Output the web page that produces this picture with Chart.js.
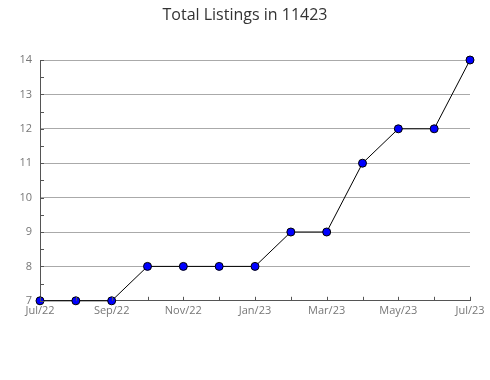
<!DOCTYPE html>
<html>
<head>
<meta charset="utf-8">
<script src="https://cdn.jsdelivr.net/npm/chart.js@4/dist/chart.umd.min.js"></script>
<style>
html,body{margin:0;padding:0;background:#fff;}
#wrap{width:490px;height:380px;position:relative;}
</style>
</head>
<body>
<div id="wrap"><canvas id="c" width="490" height="380"></canvas></div>
<script>
const chartTitle = "Total Listings in 11423";
const months = ["Jul/22","Aug/22","Sep/22","Oct/22","Nov/22","Dec/22","Jan/23","Feb/23","Mar/23","Apr/23","May/23","Jun/23","Jul/23"];
const listings = [7,7,7,8,8,8,8,9,9,11,12,12,14];
const yMin = 7;
const yMax = 14;

const innerTicks = {
  id: 'innerTicks',
  afterDraw(chart) {
    const ctx = chart.ctx;
    const x = chart.scales.x, y = chart.scales.y;
    const area = chart.chartArea;
    ctx.save();
    ctx.strokeStyle = '#555';
    ctx.lineWidth = 1;
    ctx.beginPath();
    for (let v = yMin; v <= yMax; v += 0.5) {
      const py = Math.round(y.getPixelForValue(v)) + 0.5;
      ctx.moveTo(area.left, py);
      ctx.lineTo(area.left + 4, py);
    }
    for (let i = 0; i < months.length; i++) {
      const px = Math.round(x.getPixelForValue(i)) + 0.5;
      ctx.moveTo(px, area.bottom);
      ctx.lineTo(px, area.bottom - 4);
    }
    ctx.stroke();
    ctx.fillStyle = '#333';
    ctx.font = '16px "Open Sans"';
    ctx.textAlign = 'center';
    ctx.textBaseline = 'middle';
    ctx.fillText(chartTitle, chart.width / 2, 15);
    ctx.restore();
  }
};

new Chart(document.getElementById('c'), {
  type: 'line',
  data: {
    labels: months,
    datasets: [{
      data: listings,
      borderColor: '#000',
      borderWidth: 1,
      backgroundColor: '#0000ff',
      pointBackgroundColor: '#0000ff',
      pointBorderColor: '#000',
      pointBorderWidth: 1,
      pointRadius: 4,
      tension: 0,
      clip: false
    }]
  },
  options: {
    responsive: false,
    animation: false,
    layout: { padding: { left: 0, right: 20, top: 60, bottom: 60 } },
    plugins: {
      legend: { display: false },
      tooltip: { enabled: false },
      title: { display: false }
    },
    scales: {
      x: {
        offset: false,
        grid: { display: false, drawTicks: false },
        border: { color: '#555', width: 1 },
        ticks: {
          autoSkip: false,
          maxRotation: 0,
          padding: 3,
          color: '#777',
          font: { family: 'Open Sans', size: 11 },
          callback: (v, i) => (i % 2 === 0 ? months[i] : '')
        }
      },
      y: {
        min: yMin,
        max: yMax,
        afterFit: (s) => { s.width = 40; },
        grid: {
          drawTicks: false,
          color: (c) => (c.tick && Number.isInteger(c.tick.value) && c.tick.value !== yMin ? '#aaa' : 'rgba(0,0,0,0)'),
          lineWidth: 1
        },
        border: { color: '#555', width: 1 },
        ticks: {
          stepSize: 0.5,
          padding: 8,
          color: '#777',
          font: { family: 'Open Sans', size: 11 },
          callback: (v) => (Number.isInteger(v) ? String(v) : '')
        }
      }
    }
  },
  plugins: [innerTicks]
});
</script>
</body>
</html>
